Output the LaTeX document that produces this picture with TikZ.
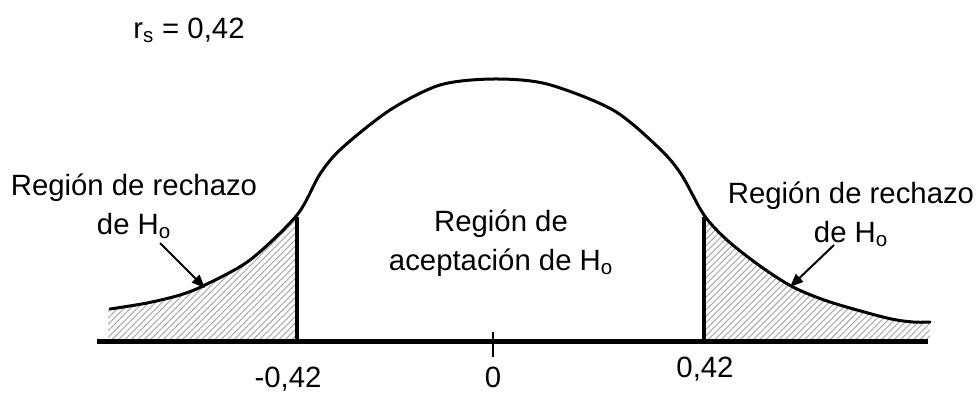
\documentclass[tikz,border=0pt]{standalone}
\usepackage{fontspec}
\setmainfont{Liberation Sans}
\usetikzlibrary{arrows.meta,patterns.meta,positioning}

\begin{document}
\begin{tikzpicture}[
  x=0.75pt, y=-0.75pt,
  lbl/.style={align=center, inner sep=0pt, font=\fontsize{22}{29}\selectfont},
  density/.style={line width=2.25pt, line join=round, line cap=round},
  hatch/.style={pattern={Lines[angle=45, distance=3.4pt, line width=0.8pt]}, pattern color=gray!65},
  limit/.style={line width=3pt},
  axisline/.style={line width=3.75pt},
  pointer/.style={-{Triangle[length=10pt,width=8pt]}, line width=1.5pt}
]
\useasboundingbox (0,0) rectangle (977,394);

% zonas de rechazo (sombreado)
\begin{scope}
  \clip plot[smooth] coordinates {(108,309) (147,303) (180,295) (205,285) (250,260) (297,215) (320,174) (342,148) (390,110) (440,85) (493,79) (547,84) (613,110) (659,148) (681,174) (704,215) (727,240) (760,266) (793,287) (830,302) (887,318) (913,322) (930,322)} -- (930,341) -- (108,341) -- cycle;
  \fill[hatch] (100,200) rectangle (297,341);
  \fill[hatch] (704,200) rectangle (930,341);
\end{scope}

% curva
\draw[density] plot[smooth] coordinates {(110,309) (147,303) (180,295) (205,285) (250,260) (297,215) (320,174) (342,148) (390,110) (440,85) (493,79) (547,84) (613,110) (659,148) (681,174) (704,215) (727,240) (760,266) (793,287) (830,302) (887,318) (913,322) (930,322)};

% eje y valores criticos
\coordinate (axL) at (97,341);
\coordinate (axR) at (928,341);
\coordinate (critL) at (297,217);
\coordinate (critR) at (704,217);
\coordinate (tickT) at (493,332);
\coordinate (tickB) at (493,357);
\draw[axisline] (axL) -- (axR);
\draw[limit] (critL) -- (critL |- axL);
\draw[limit] (critR) -- (critR |- axR);
\draw[line width=1.5pt] (tickT) -- (tickB);

% textos
\node[lbl, anchor=base] (rs) at (189,38) {r\textsubscript{s} = 0,42};
\node[lbl, anchor=base] (lowval) at (288,387) {-0,42};
\node[lbl, anchor=base] (zero) at (493,387) {0};
\node[lbl, anchor=base] (upval) at (705,377) {0,42};
\node[lbl, anchor=base] (rejL) at (134,234) {Región de rechazo\\de H\textsubscript{o}};
\node[lbl, anchor=base] (rejR) at (851,242) {Región de rechazo\\de H\textsubscript{o}};
\node[lbl, anchor=base] (accept) at (501,270) {Región de\\aceptación de H\textsubscript{o}};

% flechas
\coordinate (tailL) at (160,243);
\coordinate (headL) at (205,288);
\coordinate (tailR) at (834,245);
\coordinate (headR) at (790,287);
\draw[pointer] (tailL) -- (headL);
\draw[pointer] (tailR) -- (headR);

\end{tikzpicture}
\end{document}
